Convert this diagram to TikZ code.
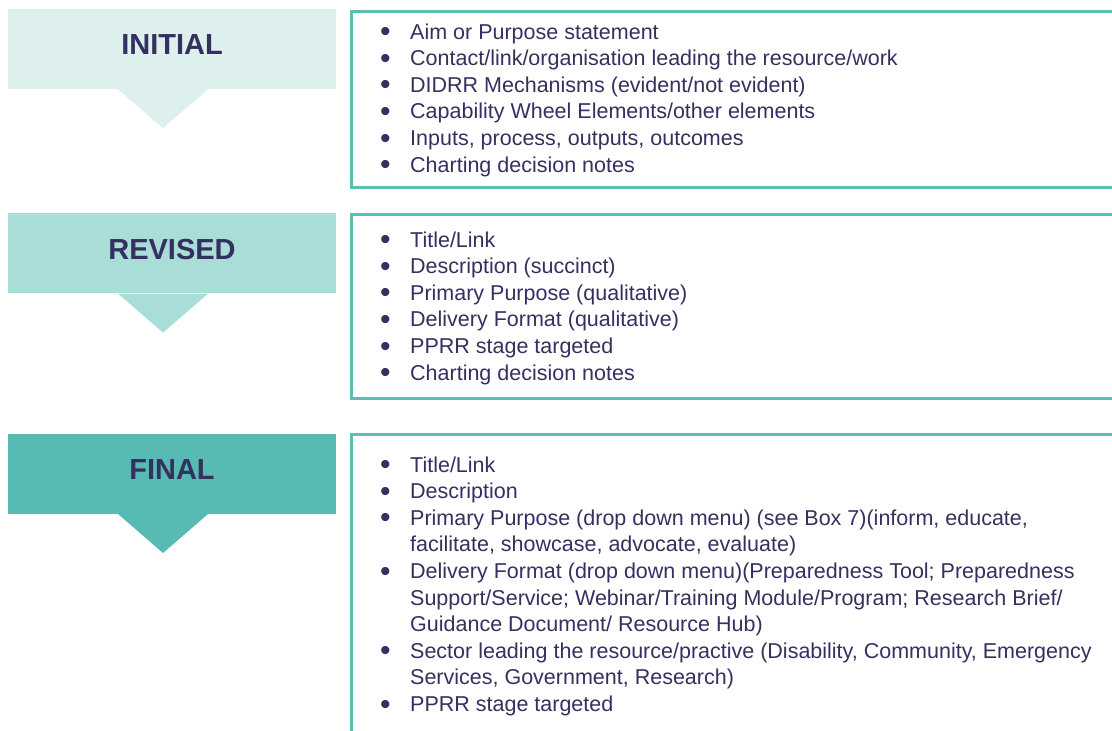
\documentclass[tikz,border=0pt]{standalone}
\usepackage{fontspec}
\setmainfont{Liberation Sans}
\usepackage{xcolor}
\usepackage{tikz}
\usetikzlibrary{positioning}

\definecolor{ink}{HTML}{34305F}
\definecolor{tealpale}{HTML}{DDF0EE}
\definecolor{tealmid}{HTML}{A8DDD8}
\definecolor{tealdeep}{HTML}{57BBB3}
\definecolor{tealline}{HTML}{5CBFB6}

\newcommand{\bul}{\makebox[30pt][l]{\smash{\raisebox{-2.6pt}{\scalebox{1.4}{\textbullet}}}}}

\begin{document}
\begin{tikzpicture}[x=1pt, y=-1pt, every node/.style={text=ink}, stage/.style={minimum width=328pt, minimum height=80pt, inner sep=0pt, font=\bfseries\fontsize{29}{33}\selectfont, text depth=9pt}, fields/.style={anchor=base west, inner sep=0pt, font=\fontsize{21.5}{26.6}\selectfont}, frame/.style={draw=tealline, line width=3pt}, node distance=124pt]
\useasboundingbox (0,0) rectangle (1112,731);

% stage headers with a pointer underneath
\node[stage, fill=tealpale] (initial) at (172,49) {INITIAL};
\node[stage, fill=tealmid, below=of initial] (revised) {REVISED};
\node[stage, fill=tealdeep, below=140pt of revised] (final) {FINAL};
\fill[tealpale] ([xshift=-54pt]initial.south) -- ([xshift=36pt]initial.south) -- ([xshift=-9pt, yshift=-39pt]initial.south) -- cycle;
\fill[tealmid] ([xshift=-54pt]revised.south) -- ([xshift=36pt]revised.south) -- ([xshift=-9pt, yshift=-39pt]revised.south) -- cycle;
\fill[tealdeep] ([xshift=-54pt]final.south) -- ([xshift=36pt]final.south) -- ([xshift=-9pt, yshift=-39pt]final.south) -- cycle;

% field lists
\node[fields] (initlist) at (380,39) {\begin{tabular}[t]{@{}l@{}l@{}}
\bul & Aim or Purpose statement\\
\bul & Contact/link/organisation leading the resource/work\\
\bul & DIDRR Mechanisms (evident/not evident)\\
\bul & Capability Wheel Elements/other elements\\
\bul & Inputs, process, outputs, outcomes\\
\bul & Charting decision notes
\end{tabular}};
\node[fields] (revlist) at (380,247) {\begin{tabular}[t]{@{}l@{}l@{}}
\bul & Title/Link\\
\bul & Description (succinct)\\
\bul & Primary Purpose (qualitative)\\
\bul & Delivery Format (qualitative)\\
\bul & PPRR stage targeted\\
\bul & Charting decision notes
\end{tabular}};
\node[fields] (finlist) at (380,472) {\begin{tabular}[t]{@{}l@{}l@{}}
\bul & Title/Link\\
\bul & Description\\
\bul & Primary Purpose (drop down menu) (see Box 7)(inform, educate,\\
 & facilitate, showcase, advocate, evaluate)\\
\bul & Delivery Format (drop down menu)(Preparedness Tool; Preparedness\\
 & Support/Service; Webinar/Training Module/Program; Research Brief/\\
 & Guidance Document/ Resource Hub)\\
\bul & Sector leading the resource/practive (Disability, Community, Emergency\\
 & Services, Government, Research)\\
\bul & PPRR stage targeted
\end{tabular}};

% open frames round the lists
\draw[frame] (1116,11) -| (351,187) -- (1116,187);
\draw[frame] (1116,214) -| (351,398) -- (1116,398);
\draw[frame] (1116,434) -| (351,735);
\end{tikzpicture}
\end{document}
